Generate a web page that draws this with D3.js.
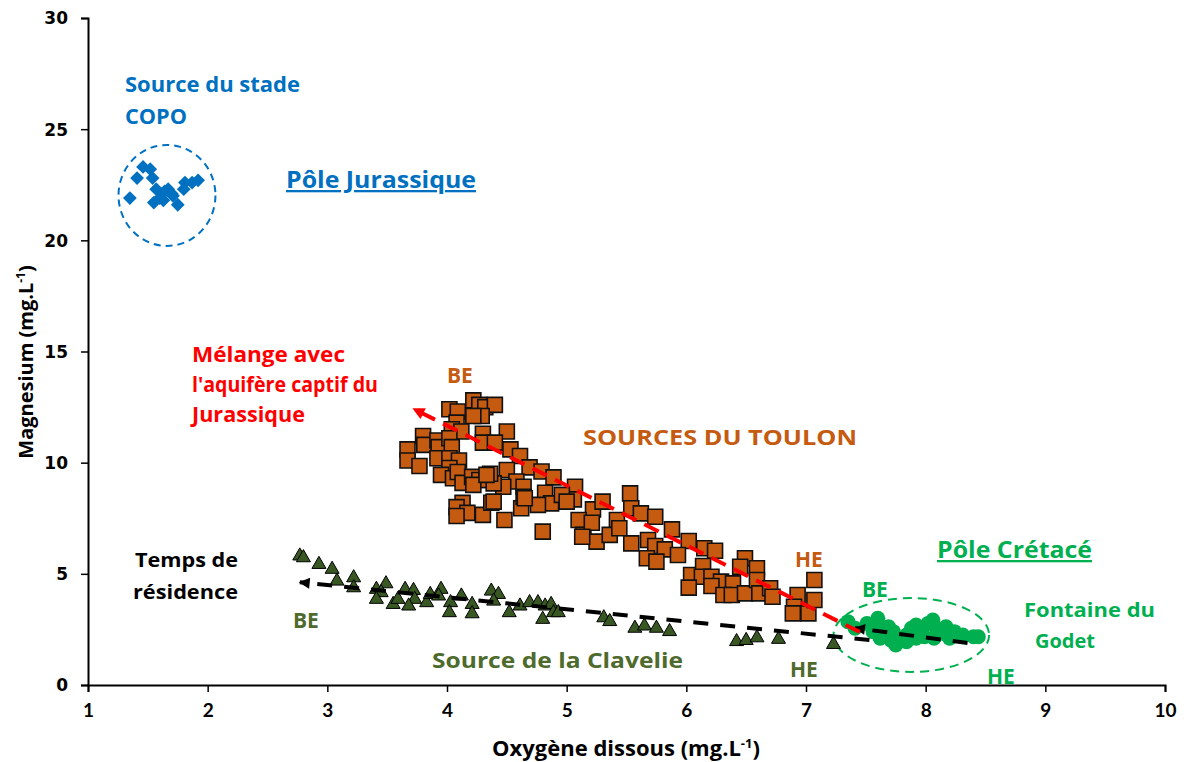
<!DOCTYPE html>
<html><head><meta charset="utf-8">
<script src="https://cdn.jsdelivr.net/npm/d3@7"></script>
<style>
html,body{margin:0;padding:0;background:#fff;}
svg text{font-family:"Open Sans",Lato,sans-serif;font-weight:bold;}
</style>
</head><body>
<svg id="chart" width="1184" height="762"></svg>
<script>
// ---- data ----
const xTicks = [1,2,3,4,5,6,7,8,9,10];
const yTicks = [0,5,10,15,20,25,30];

// Source du stade COPO (blue diamonds)
const copoO2 = [1.46,1.52,1.41,1.54,1.57,1.62,1.64,1.67,1.70,1.60,1.55,1.63,1.81,1.87,1.92,1.80,1.35,1.75,1.71];
const copoMg = [23.3,23.2,22.8,22.8,22.3,22.1,22.2,22.3,22.1,21.9,21.7,21.8,22.6,22.6,22.7,22.3,21.9,21.6,22.0];

// Sources du Toulon (orange squares)
const toulonO2 = [4.02,4.09,4.22,4.27,4.32,4.40,4.29,4.22,4.08,4.04,4.12,4.30,4.30,3.80,3.81,3.92,3.93,4.02,4.04,3.67,
  3.67,3.77,3.92,4.02,4.10,4.02,3.95,4.05,4.09,4.13,4.21,4.27,4.33,4.22,4.13,4.08,4.17,4.08,4.30,4.50,
  4.40,4.53,4.61,4.50,4.69,4.79,4.89,4.58,4.64,4.47,4.39,4.37,4.62,4.48,4.80,4.82,4.87,4.76,4.64,4.36,
  4.33,5.07,5.06,4.96,5.00,4.65,4.39,5.22,5.10,5.14,5.21,5.25,5.53,5.30,5.42,5.54,5.62,5.74,5.88,6.02,
  6.15,6.24,5.13,5.36,5.44,5.54,5.68,5.74,5.82,5.67,5.75,5.93,6.04,6.14,6.13,6.21,6.29,6.39,6.02,6.21,
  6.31,6.38,6.49,6.49,6.59,6.59,6.61,6.70,6.72,6.45,6.93,6.90,7.02,7.07,7.07,6.89];
const toulonMg = [12.4,12.3,12.8,12.6,12.5,12.6,12.1,12.1,11.8,11.5,11.4,11.3,10.9,11.2,10.8,11.0,10.7,11.1,10.7,10.6,
  10.1,9.85,10.2,10.2,10.1,9.76,9.45,9.3,9.58,9.09,9.36,9.22,9.22,9.0,8.19,8.0,7.74,7.6,7.65,11.4,
  10.9,10.6,10.3,9.67,9.79,9.6,9.34,9.15,8.92,8.92,9.07,8.2,7.95,7.42,6.9,8.65,8.17,8.1,8.47,9.5,
  9.45,8.92,8.35,8.55,8.25,8.4,8.25,7.9,7.42,6.75,7.3,6.45,8.62,8.25,7.42,7.95,7.72,7.57,7.0,6.48,
  6.15,6.04,6.67,6.75,7.05,6.37,6.52,6.25,6.1,5.7,5.55,5.85,4.95,5.35,4.87,4.87,4.65,4.57,4.38,4.45,
  4.05,4.05,4.12,5.7,5.25,4.72,4.12,4.35,3.97,5.32,4.05,3.52,3.22,4.72,3.82,3.22];

// Source de la Clavelie (dark green triangles)
const clavO2 = [2.77,2.80,2.93,3.04,3.08,3.22,3.22,3.41,3.49,3.45,3.41,3.55,3.59,3.65,3.72,3.73,3.68,3.83,3.86,3.95,
  3.93,4.03,4.02,4.12,4.21,4.21,4.37,4.43,4.39,4.52,4.61,4.69,4.76,4.82,4.87,4.80,4.89,4.93,5.31,5.36,
  5.57,5.65,5.75,5.86,6.42,6.50,6.59,6.77,7.23];
const clavMg = [5.85,5.77,5.47,5.25,4.72,4.87,4.42,4.35,4.6,4.2,3.9,3.67,3.9,4.35,4.3,3.9,3.6,3.75,4.12,4.35,
  4.05,3.75,3.3,4.05,3.67,3.25,4.27,4.12,3.82,3.3,3.6,3.75,3.75,3.6,3.67,3.0,3.3,3.3,3.07,2.9,
  2.6,2.7,2.6,2.45,2.0,2.05,2.17,2.1,1.87];

// Fontaine du Godet (green circles)
const godetO2 = [7.35,7.41,7.51,7.60,7.62,7.69,7.73,7.71,7.78,7.84,7.88,7.92,7.96,7.99,8.02,8.06,8.09,8.15,8.17,8.24,
  8.31,8.40,8.44,7.92,7.84,7.67,7.62,7.75,8.07,7.56,8.20];
const godetMg = [2.85,2.55,2.77,3.0,2.55,2.62,2.4,2.02,2.02,2.25,2.55,2.7,2.47,2.17,2.77,2.92,2.55,2.32,2.62,2.4,
  2.25,2.17,2.17,2.1,1.95,2.17,2.1,1.8,2.1,2.4,2.1];

// trend arrows [x1,y1,x2,y2] (arrow at second point)
const redTrend = [7.45,2.38,3.72,12.42];
const blackTrend1 = [7.53,2.02,2.77,4.62];
const blackTrend2 = [8.35,1.89,7.41,2.56];

// ---- drawing ----
const svg = d3.select("#chart");
const x = d3.scaleLinear().domain([1,10]).range([88,1165]);
const y = d3.scaleLinear().domain([0,30]).range([685,18]);

const defs = svg.append("defs");
function marker(id, color, w, h){
  defs.append("marker").attr("id",id).attr("viewBox","0 0 10 10")
    .attr("refX",9).attr("refY",5).attr("markerUnits","userSpaceOnUse")
    .attr("markerWidth",w).attr("markerHeight",h).attr("orient","auto")
    .append("path").attr("d","M0,0 L10,5 L0,10 Z").attr("fill",color);
}
marker("arrRed","#FF0000",14,12);
marker("arrBlack","#000",13,11);

// ellipses
svg.append("ellipse").attr("cx",x(1.66)).attr("cy",y(22.02))
  .attr("rx",x(1.66+0.405)-x(1.66)).attr("ry",y(22.02)-y(22.02+2.27))
  .attr("fill","none").attr("stroke","#0070C0").attr("stroke-width",2).attr("stroke-dasharray","7,5");
svg.append("ellipse").attr("cx",x(7.88)).attr("cy",y(2.25))
  .attr("rx",x(7.88+0.65)-x(7.88)).attr("ry",y(2.25)-y(2.25+1.66))
  .attr("fill","none").attr("stroke","#00B050").attr("stroke-width",2).attr("stroke-dasharray","9,6");

// axes
const gx = svg.append("g").attr("transform",`translate(0,${y(0)})`)
  .call(d3.axisBottom(x).tickValues(xTicks).tickSize(7).tickFormat(d3.format("d")));
const gy = svg.append("g").attr("transform",`translate(${x(1)},0)`)
  .call(d3.axisLeft(y).tickValues(yTicks).tickSize(7).tickFormat(d3.format("d")));
[gx,gy].forEach(g=>{
  g.select(".domain").attr("stroke","#000").attr("stroke-width",2);
  g.selectAll(".tick line").attr("stroke","#000").attr("stroke-width",1.5);
});
gx.selectAll(".tick text").attr("dy",null).attr("y",32).attr("font-size",19)
  .style("font-family","'Liberation Sans Narrow',Lato,sans-serif").attr("fill","#000");
gy.selectAll(".tick text").attr("x",-20).attr("dy","0.35em").attr("font-size",17)
  .style("font-family","'DejaVu Sans',sans-serif").attr("fill","#000");

// points
const sq = d3.symbol().type(d3.symbolSquare).size(225)();
const tri = d3.symbol().type(d3.symbolTriangle).size(85)();
const dia = d3.symbol().type(d3.symbolSquare).size(95)();

svg.append("g").selectAll("path").data(copoO2.map((v,i)=>[v,copoMg[i]])).join("path")
  .attr("d",dia).attr("transform",d=>`translate(${x(d[0])},${y(d[1])}) rotate(45)`)
  .attr("fill","#0070C0");
svg.append("g").selectAll("path").data(toulonO2.map((v,i)=>[v,toulonMg[i]])).join("path")
  .attr("d",sq).attr("transform",d=>`translate(${x(d[0])},${y(d[1])})`)
  .attr("fill","#C55A11").attr("stroke","#111").attr("stroke-width",1.6);
svg.append("g").selectAll("path").data(clavO2.map((v,i)=>[v,clavMg[i]])).join("path")
  .attr("d",tri).attr("transform",d=>`translate(${x(d[0])},${y(d[1])+1})`)
  .attr("fill","#385723").attr("stroke","#000").attr("stroke-width",1);
svg.append("g").selectAll("circle").data(godetO2.map((v,i)=>[v,godetMg[i]])).join("circle")
  .attr("cx",d=>x(d[0])).attr("cy",d=>y(d[1])).attr("r",7.5).attr("fill","#00B050");

// trend lines
function trend(t,color,dash,mk){
  svg.append("line").attr("x1",x(t[0])).attr("y1",y(t[1])).attr("x2",x(t[2])).attr("y2",y(t[3]))
    .attr("stroke",color).attr("stroke-width",4).attr("stroke-dasharray",dash)
    .attr("marker-end",`url(#${mk})`);
}
trend(blackTrend1,"#000","15,12","arrBlack");
trend(blackTrend2,"#000","15,12","arrBlack");
trend(redTrend,"#FF0000","16,9","arrRed");

// labels
function label(txt,px,py,color,size,w,underline){
  const t = svg.append("text").attr("x",px).attr("y",py).attr("fill",color)
    .attr("font-size",size).text(txt);
  if(w) t.attr("textLength",w).attr("lengthAdjust","spacingAndGlyphs");
  if(underline) t.attr("text-decoration","underline");
  return t;
}
const BLUE="#0070C0", ORANGE="#C55A11", RED="#FF0000", GREEN="#00B050", DKGREEN="#4E6B2D";
label("Source du stade",125,92,BLUE,21,175);
label("COPO",125,124,BLUE,21,62);
label("Pôle Jurassique",286,188,BLUE,23,190,true);
label("Mélange avec",192,362,RED,21,153);
label("l'aquifère captif du",192,392,RED,21,186);
label("Jurassique",192,422,RED,21,113);
label("BE",447,383,ORANGE,21);
label("SOURCES DU TOULON",583,445,ORANGE,22,274);
label("HE",795,567,ORANGE,21);
label("Pôle Crétacé",937,558,GREEN,23,155,true);
label("BE",862,597,GREEN,21);
label("Fontaine du",1024,617,GREEN,20,131);
label("Godet",1035,648,GREEN,20);
label("HE",987,684,GREEN,21);
label("Temps de",135,567,"#000",20,103);
label("résidence",133,599,"#000",20,105);
label("BE",293,628,DKGREEN,21);
label("Source de la Clavelie",432,668,DKGREEN,22,251);
label("HE",790,677,DKGREEN,21);

// axis titles
const xt = svg.append("text").attr("x",626).attr("y",756).attr("text-anchor","middle")
  .attr("font-size",22).attr("fill","#000");
xt.append("tspan").text("Oxygène dissous (mg.L");
xt.append("tspan").text("-1").attr("font-size",13).attr("dy",-8);
xt.append("tspan").text(")").attr("dy",8);
const yt = svg.append("text").attr("transform","translate(33,362) rotate(-90)").attr("text-anchor","middle")
  .attr("font-size",20).attr("fill","#000");
yt.append("tspan").text("Magnesium (mg.L");
yt.append("tspan").text("-1").attr("font-size",12).attr("dy",-8);
yt.append("tspan").text(")").attr("dy",8);
</script>
</body></html>
